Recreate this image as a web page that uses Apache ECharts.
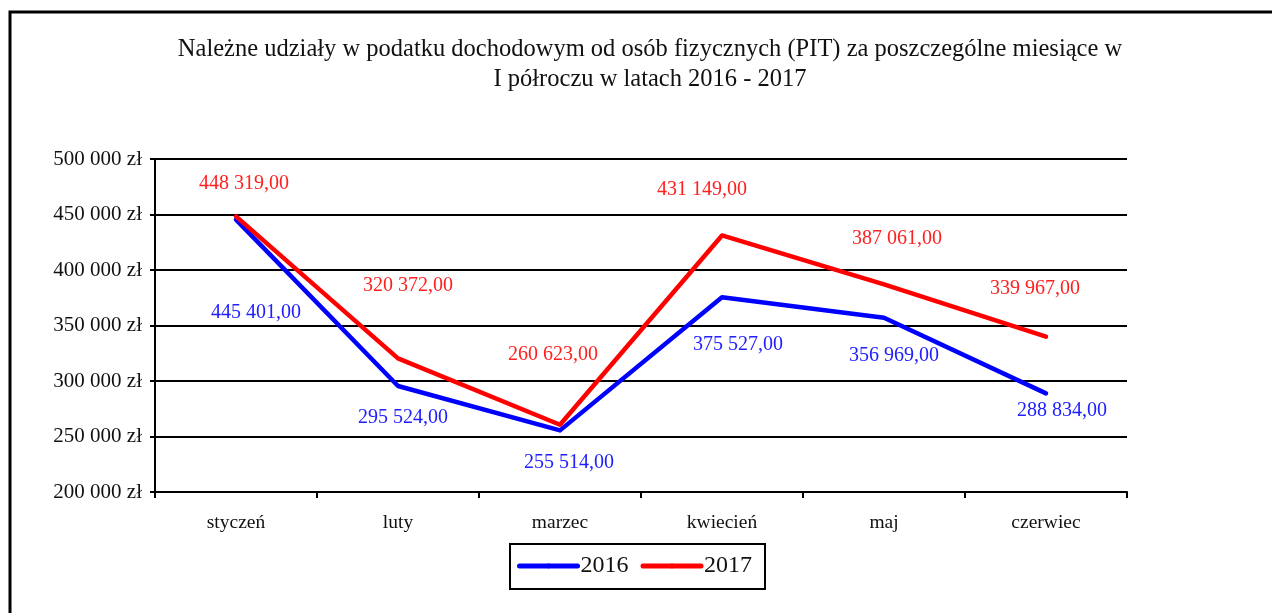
<!DOCTYPE html>
<html>
<head>
<meta charset="utf-8">
<script src="https://cdn.jsdelivr.net/npm/echarts@6/dist/echarts.min.js"></script>
<style>html,body{margin:0;padding:0;background:#fff}#c{width:1272px;height:613px}</style>
</head>
<body>
<div id="c"></div>
<script>
const categories = ['styczeń', 'luty', 'marzec', 'kwiecień', 'maj', 'czerwiec'];
const values2016 = [445401, 295524, 255514, 375527, 356969, 288834];
const values2017 = [448319, 320372, 260623, 431149, 387061, 339967];
const yTicks = [200000, 250000, 300000, 350000, 400000, 450000, 500000];
const seriesNames = ['2016', '2017'];
const titleText = 'Należne udziały w podatku dochodowym od osób fizycznych (PIT) za poszczególne miesiące w\nI półroczu w latach 2016 - 2017';

// layout: label offsets (pixels) relative to each point
const labelOffsets2016 = [[20, 93], [5, 32], [9, 32], [16, 48], [10, 38], [16, 17]];
const labelOffsets2017 = [[8, -33], [10, -73], [-7, -70], [-20, -46], [13, -46], [-11, -48]];

const FONT = '"Liberation Serif", "DejaVu Serif", serif';

function fmtThousands(n) {
  return String(Math.round(n)).replace(/\B(?=(\d{3})+(?!\d))/g, ' ');
}
function fmtValue(v) {
  return fmtThousands(v) + ',00';
}

function buildData(values, offsets) {
  return values.map((v, i) => ({ value: v, label: { offset: offsets[i] } }));
}

const chart = echarts.init(document.getElementById('c'), null, { renderer: 'canvas' });
chart.setOption({
  animation: false,
  backgroundColor: '#fff',
  graphic: [{
    type: 'rect',
    shape: { x: 10, y: 12, width: 1400, height: 800 },
    style: { fill: 'none', stroke: '#000', lineWidth: 3 },
    z: 100
  }],
  title: {
    text: titleText,
    left: 645,
    top: 30,
    textAlign: 'center',
    textStyle: { fontFamily: FONT, fontSize: 24.5, fontWeight: 'normal', color: '#111', lineHeight: 30 }
  },
  grid: { left: 155, right: 145, top: 159, bottom: 121, containLabel: false },
  legend: {
    data: seriesNames,
    left: 510,
    top: 544,
    orient: 'horizontal',
    padding: [10, 13, 11, 7],
    itemGap: 12,
    itemWidth: 58,
    itemHeight: 6,
    borderColor: '#000',
    borderWidth: 2,
    textStyle: { fontFamily: FONT, fontSize: 24, color: '#111', padding: [0, 0, 0, -2] },
    lineStyle: { width: 5 }
  },
  xAxis: {
    type: 'category',
    data: categories,
    boundaryGap: true,
    axisLine: { lineStyle: { color: '#000', width: 2 } },
    axisTick: { show: true, length: 6, lineStyle: { color: '#000', width: 2 } },
    axisLabel: { fontFamily: FONT, fontSize: 19.5, color: '#111', margin: 21 },
    splitLine: { show: false }
  },
  yAxis: {
    type: 'value',
    min: yTicks[0],
    max: yTicks[yTicks.length - 1],
    interval: yTicks[1] - yTicks[0],
    axisLine: { show: true, lineStyle: { color: '#000', width: 2 } },
    axisTick: { show: true, length: 5, lineStyle: { color: '#000', width: 2 } },
    axisLabel: { fontFamily: FONT, fontSize: 21, color: '#111', margin: 13, formatter: v => fmtThousands(v) + ' zł' },
    splitLine: { show: true, lineStyle: { color: '#000', width: 2 } }
  },
  series: [
    {
      name: seriesNames[0],
      type: 'line',
      data: buildData(values2016, labelOffsets2016),
      symbol: 'circle',
      symbolSize: 1,
      showSymbol: true,
      itemStyle: { color: '#0000ff' },
      lineStyle: { color: '#0000ff', width: 4.5, cap: 'round', join: 'round' },
      label: {
        show: true, position: 'inside', align: 'center', verticalAlign: 'middle',
        fontFamily: FONT, fontSize: 20, color: '#2020ff',
        formatter: p => fmtValue(p.value)
      },
      z: 3
    },
    {
      name: seriesNames[1],
      type: 'line',
      data: buildData(values2017, labelOffsets2017),
      symbol: 'circle',
      symbolSize: 1,
      showSymbol: true,
      itemStyle: { color: '#ff0000' },
      lineStyle: { color: '#ff0000', width: 4.5, cap: 'round', join: 'round' },
      label: {
        show: true, position: 'inside', align: 'center', verticalAlign: 'middle',
        fontFamily: FONT, fontSize: 20, color: '#ff2020',
        formatter: p => fmtValue(p.value)
      },
      z: 4
    }
  ]
});
</script>
</body>
</html>
